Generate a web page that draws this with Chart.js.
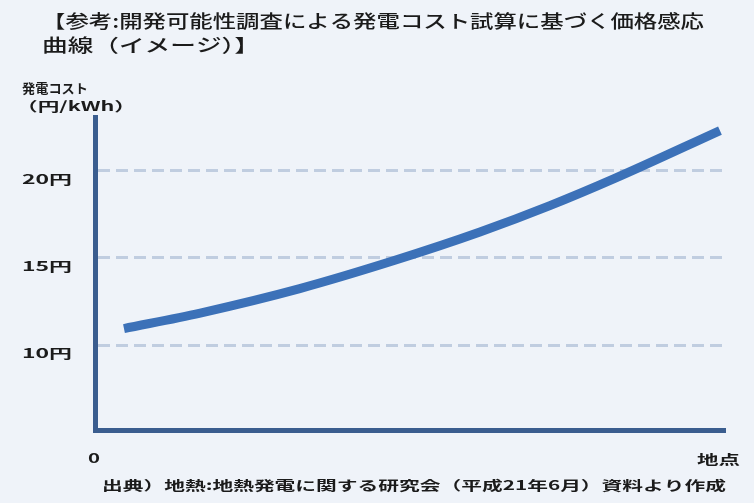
<!DOCTYPE html>
<html lang="ja">
<head>
<meta charset="UTF-8" />
<title>発電コスト試算に基づく価格感応曲線</title>
<script src="https://cdn.jsdelivr.net/npm/chart.js"></script>
<style>
  body { margin:0; background:#eff3f9; }
  #chart { display:block; }
</style>
</head>
<body>
<canvas id="chart" width="754" height="503"></canvas>
<script>
  // data (x = position along 地点 axis, 0-100)
  const sites = [4.6, 16.7, 32.5, 47.6, 61.1, 72.2, 82.5, 99.2];
  const cost = [10.95, 11.84, 13.24, 14.86, 16.48, 17.99, 19.55, 22.29];
  const costTicks = [10, 15, 20];
  const tickLabels = ['10円', '15円', '20円'];

  const titleLines = ['【参考:開発可能性調査による発電コスト試算に基づく価格感応', '曲線（イメージ）】'];
  const yTitle = ['発電コスト', '（円/kWh）'];
  const source = '出典）地熱:地熱発電に関する研究会（平成21年6月）資料より作成';

  const JP = '"Noto Sans CJK JP", sans-serif';

  // draws text stretched to a given width (the original is stretched sideways)
  function fitText(ctx, str, x, y, w, font){
    ctx.save();
    ctx.font = font;
    ctx.textBaseline = 'middle';
    ctx.textAlign = 'left';
    const m = ctx.measureText(str).width;
    ctx.translate(x, y);
    ctx.scale(w / m, 1);
    ctx.fillStyle = '#1b1b1b';
    ctx.fillText(str, 0, 0);
    ctx.restore();
  }

  const labels = {
    id: 'labels',
    afterDraw(chart){
      const ctx = chart.ctx, ys = chart.scales.y, xs = chart.scales.x;
      fitText(ctx, titleLines[0], 42, 21, 662, '500 18px ' + JP);
      fitText(ctx, titleLines[1], 42, 45, 218, '500 18px ' + JP);
      fitText(ctx, yTitle[0], 22, 88, 66, 'bold 13px ' + JP);
      fitText(ctx, yTitle[1], 16, 106, 120, 'bold 13px ' + JP);
      costTicks.forEach((v, i) => {
        fitText(ctx, tickLabels[i], 22, ys.getPixelForValue(v) + 8, 50, 'bold 13px ' + JP);
      });
      fitText(ctx, '0', xs.left - 7, 458, 12, 'bold 13px ' + JP);
      fitText(ctx, '地点', 697, 459, 43, 'bold 13px ' + JP);
      fitText(ctx, source, 102, 485, 624, 'bold 13px ' + JP);
    }
  };

  new Chart(document.getElementById('chart'), {
    type: 'line',
    data: {
      datasets: [{
        data: sites.map((s, i) => ({ x: s, y: cost[i] })),
        borderColor: '#3c71b8',
        borderWidth: 9,
        borderCapStyle: 'butt',
        pointRadius: 0,
        cubicInterpolationMode: 'monotone',
        fill: false,
        clip: false
      }]
    },
    options: {
      responsive: false,
      animation: false,
      layout: { padding: { left: 95, right: 29, top: 117, bottom: 65 } },
      plugins: { legend: { display: false }, tooltip: { enabled: false } },
      scales: {
        x: {
          type: 'linear', min: 0, max: 100,
          ticks: { display: false },
          grid: { display: false },
          border: { display: true, color: '#3a5d8f', width: 5 }
        },
        y: {
          type: 'linear', min: 5.14, max: 23.07,
          afterBuildTicks: s => { s.ticks = costTicks.map(v => ({ value: v })); },
          ticks: { display: false },
          grid: { color: '#c0cde0', lineWidth: 3, drawTicks: false },
          border: { display: true, color: '#3a5d8f', width: 5, dash: [12, 6] }
        }
      }
    },
    plugins: [labels]
  });
</script>
</body>
</html>
